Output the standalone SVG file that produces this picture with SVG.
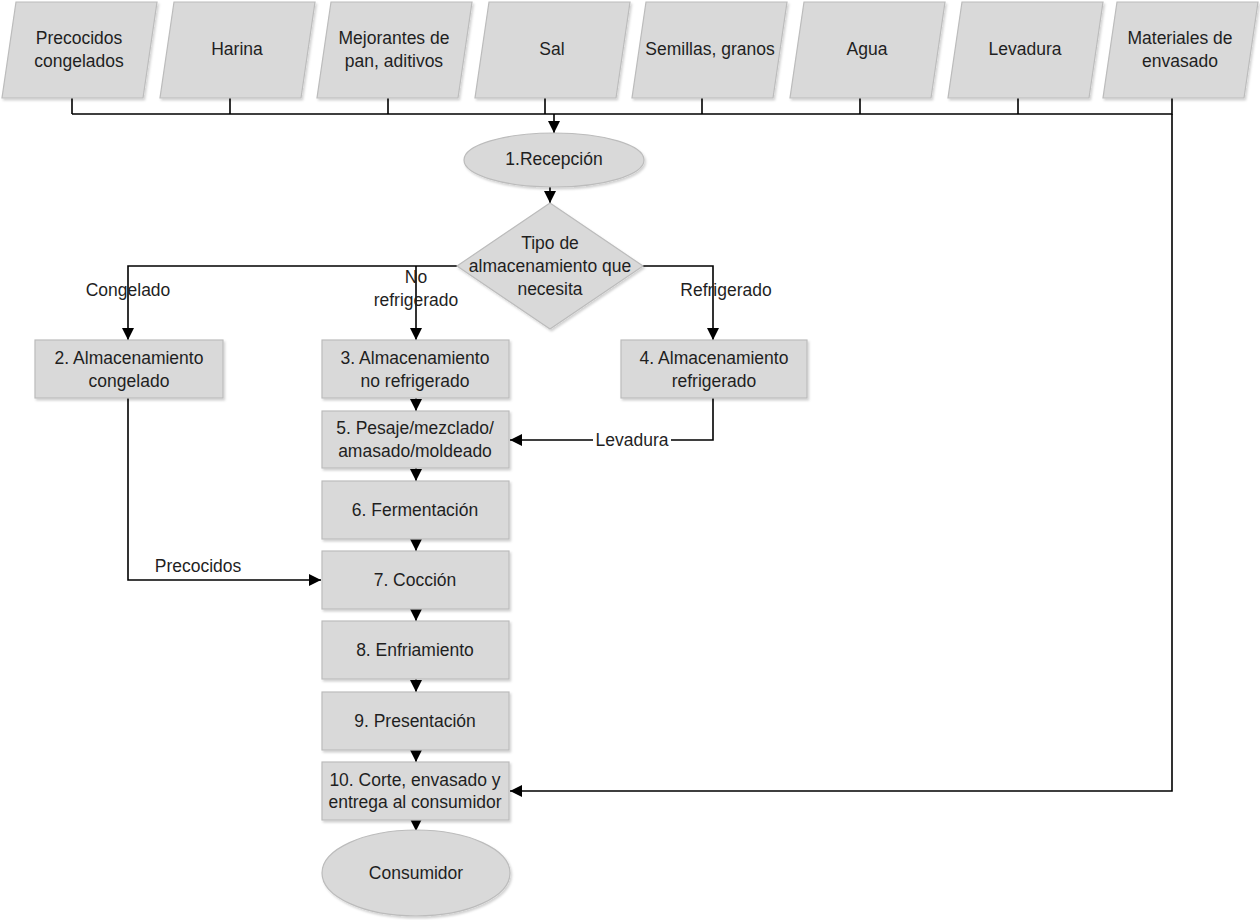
<svg xmlns="http://www.w3.org/2000/svg" width="1260" height="920" viewBox="0 0 1260 920">
<defs>
<marker id="arr" markerUnits="userSpaceOnUse" markerWidth="13" markerHeight="12" refX="12" refY="6" orient="auto">
<path d="M0,0 L12,6 L0,12 z" fill="#000"/>
</marker>
<filter id="sh" x="-5%" y="-5%" width="115%" height="120%">
<feDropShadow dx="1.5" dy="2" stdDeviation="1" flood-color="#000" flood-opacity="0.18"/>
</filter>
</defs>
<style>
.n{fill:#d9d9d9;stroke:#bcbcbc;stroke-width:1.2;filter:url(#sh)}
.t{font-family:"Liberation Sans",Arial,sans-serif;font-size:17.5px;fill:#1f1f1f;text-anchor:middle;dominant-baseline:central}
.c{fill:none;stroke:#000;stroke-width:1.6}
.a{marker-end:url(#arr)}
</style>
<rect width="1260" height="920" fill="#fff"/>

<g id="connectors">
<path class="c" d="M72,98V114M230,98V114M388,98V114M545,98V114M702,98V114M860,98V114M1018,98V114M72,114H1172V98"/>
<path class="c a" d="M554,114V133"/>
<path class="c a" d="M550,187V203"/>
<path class="c a" d="M457,266H128V340"/>
<path class="c a" d="M416,266V340"/>
<path class="c a" d="M642,266H713V340"/>
<path class="c a" d="M416,398V411"/>
<path class="c a" d="M713,398V440H510"/>
<path class="c a" d="M416,468V481"/>
<path class="c a" d="M416,539V551"/>
<path class="c a" d="M416,609V621"/>
<path class="c a" d="M416,679V692"/>
<path class="c a" d="M416,750V762"/>
<path class="c a" d="M416,820V831"/>
<path class="c a" d="M128,398V580H321"/>
<path class="c a" d="M1172,114V791H510"/>
<rect x="593" y="431" width="78" height="18" fill="#fff"/>
<text class="t" x="632" y="440">Levadura</text>
<text class="t" x="128" y="290">Congelado</text>
<text class="t" x="416" y="277">No</text>
<text class="t" x="416" y="300">refrigerado</text>
<text class="t" x="726" y="290">Refrigerado</text>
<text class="t" x="198" y="566">Precocidos</text>
</g>

<g id="in-precocidos"><polygon class="n" points="16,2 157,2 143,98 2,98"/><text class="t" x="79" y="38">Precocidos</text><text class="t" x="79" y="61">congelados</text></g>
<g id="in-harina"><polygon class="n" points="174,2 315,2 301,98 160,98"/><text class="t" x="237" y="49">Harina</text></g>
<g id="in-mejorantes"><polygon class="n" points="331,2 472,2 458,98 317,98"/><text class="t" x="394" y="38">Mejorantes de</text><text class="t" x="394" y="61">pan, aditivos</text></g>
<g id="in-sal"><polygon class="n" points="489,2 630,2 616,98 475,98"/><text class="t" x="552" y="49">Sal</text></g>
<g id="in-semillas"><polygon class="n" points="646,2 787,2 773,98 632,98"/><text class="t" x="710" y="49">Semillas, granos</text></g>
<g id="in-agua"><polygon class="n" points="804,2 945,2 931,98 790,98"/><text class="t" x="867" y="49">Agua</text></g>
<g id="in-levadura"><polygon class="n" points="962,2 1103,2 1089,98 948,98"/><text class="t" x="1025" y="49">Levadura</text></g>
<g id="in-materiales"><polygon class="n" points="1117,2 1258,2 1244,98 1103,98"/><text class="t" x="1180" y="38">Materiales de</text><text class="t" x="1180" y="61">envasado</text></g>

<g id="n1"><ellipse class="n" cx="554" cy="160" rx="90" ry="27"/><text class="t" x="554" y="159">1.Recepción</text></g>
<g id="decision"><polygon class="n" points="550,203 643,266 550,329 457,266"/><text class="t" x="550" y="243">Tipo de</text><text class="t" x="550" y="266">almacenamiento que</text><text class="t" x="550" y="289">necesita</text></g>

<g id="n2"><rect class="n" x="35" y="340" width="188" height="58"/><text class="t" x="129" y="358">2. Almacenamiento</text><text class="t" x="129" y="381">congelado</text></g>
<g id="n3"><rect class="n" x="322" y="340" width="187" height="58"/><text class="t" x="415" y="358">3. Almacenamiento</text><text class="t" x="415" y="381">no refrigerado</text></g>
<g id="n4"><rect class="n" x="621" y="340" width="186" height="58"/><text class="t" x="714" y="358">4. Almacenamiento</text><text class="t" x="714" y="381">refrigerado</text></g>
<g id="n5"><rect class="n" x="322" y="411" width="187" height="57"/><text class="t" x="415" y="428">5. Pesaje/mezclado/</text><text class="t" x="415" y="451">amasado/moldeado</text></g>
<g id="n6"><rect class="n" x="322" y="481" width="187" height="58"/><text class="t" x="415" y="510">6. Fermentación</text></g>
<g id="n7"><rect class="n" x="322" y="551" width="187" height="58"/><text class="t" x="415" y="580">7. Cocción</text></g>
<g id="n8"><rect class="n" x="322" y="621" width="187" height="58"/><text class="t" x="415" y="650">8. Enfriamiento</text></g>
<g id="n9"><rect class="n" x="322" y="692" width="187" height="58"/><text class="t" x="415" y="721">9. Presentación</text></g>
<g id="n10"><rect class="n" x="322" y="762" width="187" height="58"/><text class="t" x="415" y="780">10. Corte, envasado y</text><text class="t" x="415" y="802">entrega al consumidor</text></g>
<g id="consumidor"><ellipse class="n" cx="416" cy="873" rx="94" ry="43"/><text class="t" x="416" y="873">Consumidor</text></g>
</svg>
